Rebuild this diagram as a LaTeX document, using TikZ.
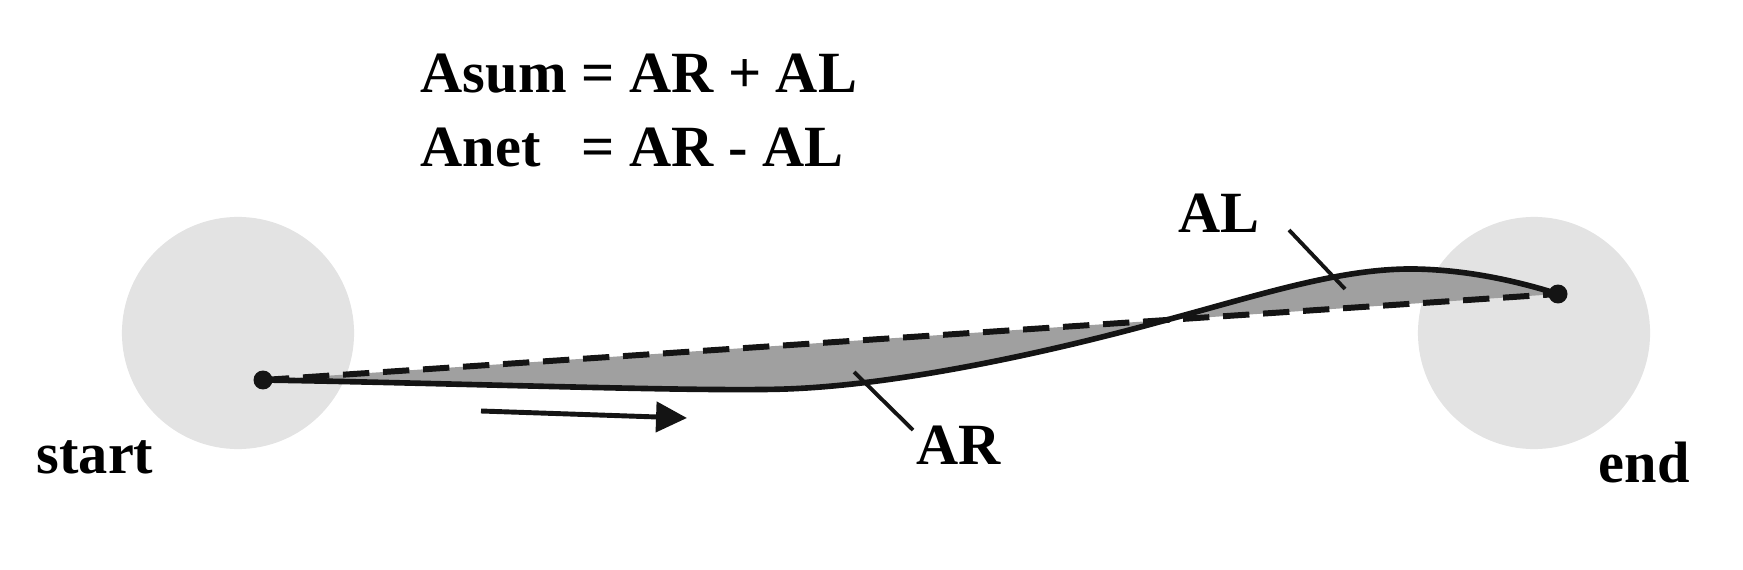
\documentclass[tikz,border=0pt]{standalone}
\usepackage{fontspec}
\setmainfont{Liberation Serif}
\usetikzlibrary{arrows.meta}

\begin{document}
\begin{tikzpicture}[x=0.01cm,y=-0.01cm]

% Colori
\definecolor{colDisco}{HTML}{E3E3E3}
\definecolor{colArea}{HTML}{A0A0A0}
\definecolor{colLinea}{HTML}{141414}

% Raggio dei dischi
\def\raggio{1.16cm}

\tikzset{
  etichetta/.style={font=\fontsize{16.6}{21}\selectfont\bfseries, inner sep=0pt, anchor=base west},
  puntatore/.style={colLinea, line width=1.1pt},
  traccia/.style={colLinea, line width=1.6pt},
  corda/.style={colLinea, line width=1.7pt, dash pattern=on 7.5pt off 3.9pt},
  freccia/.style={colLinea, line width=1.4pt, -{Triangle[length=8.8pt,width=8.5pt]}}
}

\useasboundingbox (0,0) rectangle (1743,570);

% Punti
\coordinate (inizio) at (263,380);
\coordinate (fine) at (1558,294);
\coordinate (minR) at (786,389);
\coordinate (incrocio) at (1159,322);
\coordinate (picco) at (1415,269);
\coordinate (puntoR) at (854,372);
\coordinate (codaR) at (913,430);
\coordinate (puntoL) at (1345,289);
\coordinate (codaL) at (1289,230);
\coordinate (frecciaA) at (481,411);
\coordinate (frecciaB) at (687,418);

% Dischi
\fill[colDisco] (238,333) circle (\raggio);
\fill[colDisco] (1534,333) circle (\raggio);

% Aree
\fill[colArea] (inizio) .. controls (450,383) and (700,392) .. (minR)
  .. controls (900,385) and (1050,352) .. (incrocio)
  .. controls (1260,295) and (1340,268) .. (picco)
  .. controls (1470,270) and (1520,282) .. (fine) -- cycle;

% Corda e traccia
\draw[corda] (inizio) -- (fine);
\draw[traccia] (inizio) .. controls (450,383) and (700,392) .. (minR)
  .. controls (900,385) and (1050,352) .. (incrocio)
  .. controls (1260,295) and (1340,268) .. (picco)
  .. controls (1470,270) and (1520,282) .. (fine);
\fill[colLinea] (inizio) circle (2.7pt);
\fill[colLinea] (fine) circle (2.7pt);

% Puntatori
\draw[puntatore] (puntoR) -- (codaR);
\draw[puntatore] (codaL) -- (puntoL);

% Verso di percorrenza
\draw[freccia] (frecciaA) -- (frecciaB);

% Etichette
\node[etichetta] (formula) at (420,93) {\begin{tabular}[t]{@{}l@{\hspace{0.25em}}l@{}}Asum & = AR + AL\\ Anet & = AR - AL\end{tabular}};
\node[etichetta] (lblStart) at (36,473) {start};
\node[etichetta] (lblEnd) at (1598,482) {end};
\node[etichetta] (lblAL) at (1178,232) {AL};
\node[etichetta] (lblAR) at (916,464) {AR};

\end{tikzpicture}
\end{document}
